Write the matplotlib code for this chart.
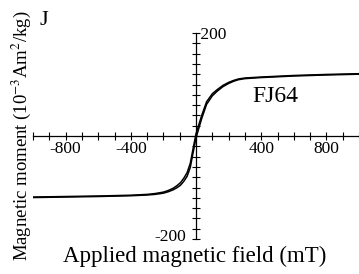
import matplotlib
matplotlib.use("Agg")
import matplotlib.pyplot as plt
from matplotlib.ticker import MultipleLocator, FuncFormatter

# ─── Data ─────────────────────────────────────────────────────────────────────
FIELD = [-1000, -800, -600, -400, -300, -250, -200, -170, -140, -115, -95,
         -75, -55, -35, -20, 0, 15, 35, 65, 100, 130, 165, 200, 230, 260,
         300, 400, 600, 800, 1000]
# descending branch (upper)
M_DOWN = [-118.5, -117.5, -116.5, -115, -113.4, -111.7, -109, -105.8, -101.5,
          -96, -90.5, -82, -71.5, -53, -28, 4, 19.5, 40, 66.5, 82, 90, 98.2,
          104, 107.8, 110.7, 112.6, 114.5, 117.5, 119.5, 121]
# ascending branch (lower)
M_UP = [-119.5, -118.5, -117.5, -116, -114.6, -113.3, -111, -108.2, -104.5,
        -100, -95.5, -88, -78.5, -61, -36, -4, 12.5, 34, 61.5, 78, 87, 95.8,
        102, 106.2, 109.3, 111.4, 113.5, 116.5, 118.5, 120]

X_LABELED = [-800, -400, 400, 800]

plt.rcParams["font.family"] = ["Liberation Serif", "DejaVu Serif"]
plt.rcParams["mathtext.fontset"] = "stix"

fig = plt.figure(figsize=(3.59, 2.74), dpi=100)
ax = fig.add_axes([33 / 359, 35 / 274, 326 / 359, 206 / 274])

ax.plot(FIELD, M_DOWN, color="black", lw=1.1)
ax.plot(FIELD, M_UP, color="black", lw=1.1)

ax.set_xlim(-1000, 1000)
ax.set_ylim(-200, 200)

for s in ["top", "right"]:
    ax.spines[s].set_visible(False)
ax.spines["left"].set_position(("data", 0))
ax.spines["bottom"].set_position(("data", 0))
for s in ["left", "bottom"]:
    ax.spines[s].set_linewidth(0.9)

ax.xaxis.set_major_locator(MultipleLocator(100))
ax.yaxis.set_major_locator(MultipleLocator(20))
ax.xaxis.set_major_formatter(FuncFormatter(
    lambda v, p: f"{int(round(v))}" if int(round(v)) in X_LABELED else ""))
ax.yaxis.set_major_formatter(FuncFormatter(lambda v, p: ""))
ax.tick_params(axis="both", direction="inout", length=6, width=0.8,
               labelsize=12.5, pad=0.5)

# y-axis end labels
ax.text(0, 197, " 200", ha="left", va="center", fontsize=12.5)
ax.text(-60, -196, "-200", ha="right", va="center", fontsize=12.5)

ax.text(343, 66, "FJ64", fontsize=17, ha="left", va="baseline")
fig.text(40 / 359, 1 - 25 / 274, "J", fontsize=16, ha="left", va="baseline")

fig.text(0.542, 12 / 274, "Applied magnetic field (mT)", fontsize=16.5,
         ha="center", va="baseline")
fig.text(0.06, 0.505, r"Magnetic moment (10$^{-3}$Am$^{2}$/kg)", fontsize=13.5,
         rotation=90, ha="center", va="center")

fig.savefig("out.png", dpi=100)
